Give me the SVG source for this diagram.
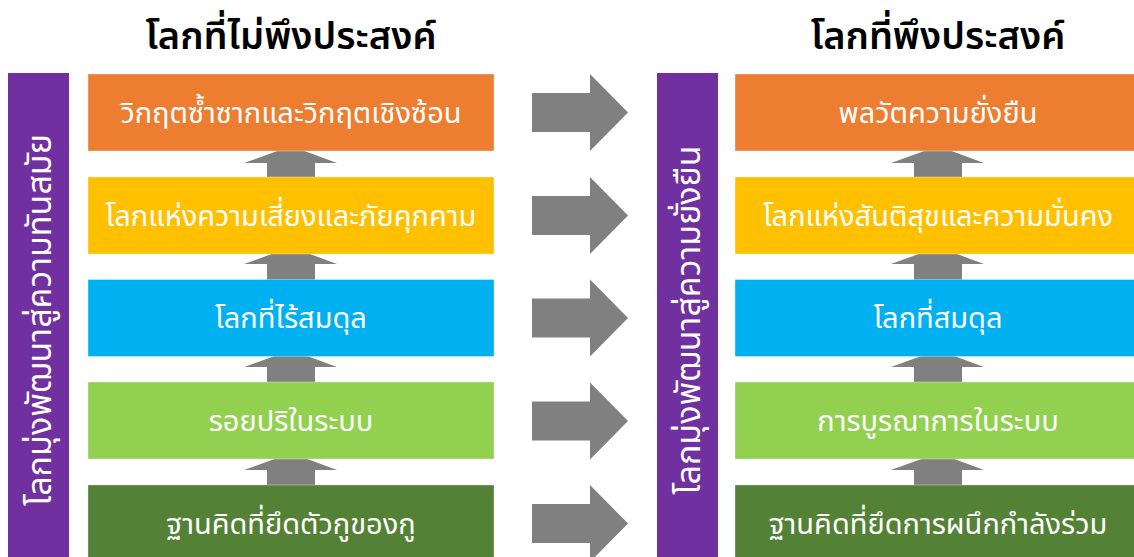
<svg xmlns="http://www.w3.org/2000/svg" width="1134" height="557" viewBox="0 0 1134 557">
<style>
text{font-family:"Noto Sans","Noto Sans Thai","Noto Looped Thai",sans-serif;}
.title{font-size:38px;font-weight:600;fill:#000;text-anchor:middle;}
.lbl{font-size:29px;fill:#fff;text-anchor:middle;dominant-baseline:central;}
.side{font-size:34px;fill:#fff;text-anchor:middle;dominant-baseline:central;}
.bar{fill:#7030A0;}
.box{stroke:#fff;stroke-opacity:0.35;stroke-width:1;}
.arr{fill:#808080;}
</style>
<rect width="1134" height="557" fill="#fff"/>
<g id="title-left"><text class="title" x="291" y="49">โลกที่ไม่พึงประสงค์</text></g>
<g id="title-right"><text class="title" x="938" y="49">โลกที่พึงประสงค์</text></g>

<g id="bar-left"><rect class="bar" x="8" y="73" width="61" height="490"/>
<text class="side" transform="translate(38,320) rotate(-90)">โลกมุ่งพัฒนาสู่ความทันสมัย</text></g>
<g id="bar-right"><rect class="bar" x="657" y="73" width="61" height="490"/>
<text class="side" transform="translate(687,320) rotate(-90)">โลกมุ่งพัฒนาสู่ความยั่งยืน</text></g>

<g id="connectors">
<path class="arr" d="M291,146 L337,163 L315,163 L315,178 L267,178 L267,163 L244,163 Z"/>
<path class="arr" d="M291,247 L337,264 L315,264 L315,281 L267,281 L267,264 L244,264 Z"/>
<path class="arr" d="M291,350 L337,367 L315,367 L315,383 L267,383 L267,367 L244,367 Z"/>
<path class="arr" d="M291,453 L337,470 L315,470 L315,486 L267,486 L267,470 L244,470 Z"/>
<path class="arr" d="M938,146 L984,163 L962,163 L962,178 L914,178 L914,163 L891,163 Z"/>
<path class="arr" d="M938,247 L984,264 L962,264 L962,281 L914,281 L914,264 L891,264 Z"/>
<path class="arr" d="M938,350 L984,367 L962,367 L962,383 L914,383 L914,367 L891,367 Z"/>
<path class="arr" d="M938,453 L984,470 L962,470 L962,486 L914,486 L914,470 L891,470 Z"/>
<path class="arr" d="M532,93 L590,93 L590,74 L628,112.5 L590,151 L590,132 L532,132 Z"/>
<path class="arr" d="M532,196 L590,196 L590,177 L628,215.5 L590,254 L590,235 L532,235 Z"/>
<path class="arr" d="M532,298.5 L590,298.5 L590,279.5 L628,318 L590,356.5 L590,337.5 L532,337.5 Z"/>
<path class="arr" d="M532,401.5 L590,401.5 L590,382.5 L628,421 L590,459.5 L590,440.5 L532,440.5 Z"/>
<path class="arr" d="M532,504 L590,504 L590,485 L628,523.5 L590,562 L590,543 L532,543 Z"/>
</g>

<g id="l1"><rect class="box" x="88" y="74" width="406" height="77" fill="#ED7D31"/><text class="lbl" x="291" y="111">วิกฤตซ้ำซากและวิกฤตเชิงซ้อน</text></g>
<g id="l2"><rect class="box" x="88" y="177" width="406" height="77" fill="#FFC000"/><text class="lbl" x="291" y="214">โลกแห่งความเสี่ยงและภัยคุกคาม</text></g>
<g id="l3"><rect class="box" x="88" y="279.5" width="406" height="77" fill="#00B0F0"/><text class="lbl" x="291" y="316.5">โลกที่ไร้สมดุล</text></g>
<g id="l4"><rect class="box" x="88" y="382" width="406" height="77" fill="#92D050"/><text class="lbl" x="291" y="419">รอยปริในระบบ</text></g>
<g id="l5"><rect class="box" x="88" y="485" width="406" height="80" fill="#538135"/><text class="lbl" x="291" y="522">ฐานคิดที่ยึดตัวกูของกู</text></g>

<g id="r1"><rect class="box" x="735" y="74" width="406" height="77" fill="#ED7D31"/><text class="lbl" x="938" y="111">พลวัตความยั่งยืน</text></g>
<g id="r2"><rect class="box" x="735" y="177" width="406" height="77" fill="#FFC000"/><text class="lbl" x="938" y="214">โลกแห่งสันติสุขและความมั่นคง</text></g>
<g id="r3"><rect class="box" x="735" y="279.5" width="406" height="77" fill="#00B0F0"/><text class="lbl" x="938" y="316.5">โลกที่สมดุล</text></g>
<g id="r4"><rect class="box" x="735" y="382" width="406" height="77" fill="#92D050"/><text class="lbl" x="938" y="419">การบูรณาการในระบบ</text></g>
<g id="r5"><rect class="box" x="735" y="485" width="406" height="80" fill="#538135"/><text class="lbl" x="938" y="522">ฐานคิดที่ยึดการผนึกกำลังร่วม</text></g>
</svg>
